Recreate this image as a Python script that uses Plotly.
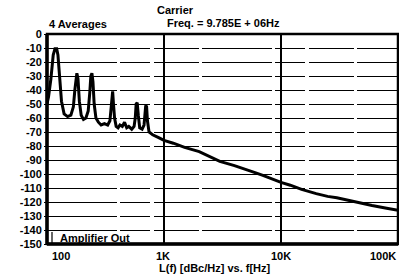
import plotly.graph_objects as go

# Offset frequency (Hz) and phase noise L(f) (dBc/Hz)
freq_hz = [100, 103, 108, 113, 117, 121, 124, 128, 133, 140, 150, 160, 168, 173, 177, 180, 184,
           189, 196, 205, 215, 225, 232, 237, 242, 247, 253, 262, 275, 290, 310, 330, 345, 352, 358,
           364, 370, 378, 390, 405, 420, 440, 460, 480, 500, 530, 555, 568, 578, 590, 603, 620,
           650, 675, 688, 698, 710, 722, 745, 800, 900, 1000, 1200, 1500, 2000, 2500, 3000, 4000,
           5000, 6000, 7000, 8000, 10000, 12000, 15000, 20000, 25000, 30000, 40000,
           50000, 60000, 80000, 100000]
level_dbc = [-50, -45, -32, -15, -10.5, -10.5, -15, -30, -48, -57, -59, -58, -52, -40, -30, -28, -32,
             -48, -58, -61, -60, -55, -42, -30, -28, -34, -50, -60, -63, -65, -64, -65, -62, -52, -42,
             -41, -50, -60, -66, -67, -65, -66, -63, -67, -66, -68, -66, -60, -50, -49, -58, -67,
             -68, -65, -57, -51, -52, -62, -70, -72, -74, -76, -78, -81, -84, -88, -91, -94,
             -96.5, -99, -101, -103, -106, -108, -111, -114, -116, -117, -119.5,
             -121, -122.5, -124.5, -126]

y_ticks = list(range(0, -151, -10))
y_tick_text = ["0"] + ["-" + str(-v) for v in y_ticks[1:]]
x_ticks = [100, 1000, 10000, 100000]
x_tick_text = ["100", "1K", "10K", "100K"]

W, H = 399, 277
L, R, T, B = 47, 1, 34, 33
pw, ph = W - L - R, H - T - B

def px(x):
    return (x - L) / pw

def py(y):
    return (H - B - y) / ph

font = dict(family="Liberation Sans, Arial, sans-serif", size=11, color="black", weight=700)

fig = go.Figure()
fig.add_trace(go.Scatter(x=freq_hz, y=level_dbc, mode="lines",
                         line=dict(color="black", width=3), hoverinfo="skip"))

fig.update_xaxes(type="log", range=[2, 5], tickvals=x_ticks, ticktext=x_tick_text,
                 showticklabels=False, showgrid=True, gridcolor="black", gridwidth=1.5,
                 zeroline=False, showline=False, ticks="")
fig.update_yaxes(range=[-150, 0], tickvals=y_ticks, ticktext=y_tick_text,
                 showgrid=True, gridcolor="black", gridwidth=1,
                 griddash="70px,3px,30px,4px,45px,3px", zeroline=False, showline=False,
                 ticks="outside", ticklen=2, tickcolor="black", tickwidth=1,
                 tickfont=font)

ann = []
ann.append(dict(x=px(50), y=py(256), text="100", xanchor="left"))
ann.append(dict(x=px(163), y=py(256), text="1K", xanchor="center"))
ann.append(dict(x=px(281), y=py(256), text="10K", xanchor="center"))
ann.append(dict(x=px(398), y=py(256), text="100K", xanchor="right"))
ann.append(dict(x=px(157), y=py(268), text="L(f) [dBc/Hz] vs. f[Hz]", xanchor="left"))
ann.append(dict(x=px(47), y=py(24), text="4 Averages", xanchor="left"))
ann.append(dict(x=px(155), y=py(10), text="Carrier", xanchor="left"))
ann.append(dict(x=px(165), y=py(23), text="Freq. = 9.785E + 06Hz", xanchor="left"))
ann.append(dict(x=px(58), y=py(238), text="Amplifier Out", xanchor="left"))
for a in ann:
    a.update(xref="paper", yref="paper", yanchor="middle", showarrow=False, font=font)

shapes = [
    dict(type="rect", xref="paper", yref="paper", x0=0, x1=1, y0=0, y1=1,
         line=dict(color="black", width=2.5)),
    dict(type="line", xref="paper", yref="paper", x0=0, x1=0, y0=0, y1=1,
         line=dict(color="black", width=3.5)),
    dict(type="line", xref="paper", yref="paper", x0=0, x1=1, y0=0, y1=0,
         line=dict(color="black", width=3.5)),
    dict(type="line", xref="paper", yref="paper", x0=px(52), x1=px(52), y0=py(244), y1=py(232),
         line=dict(color="black", width=1.2)),
]

fig.update_layout(width=W, height=H, margin=dict(l=L, r=R, t=T, b=B),
                  paper_bgcolor="white", plot_bgcolor="white", showlegend=False,
                  annotations=ann, shapes=shapes)

fig.write_html("out.html", config={"displayModeBar": False},
               post_script="document.body.style.margin='0';document.body.style.padding='0';")
